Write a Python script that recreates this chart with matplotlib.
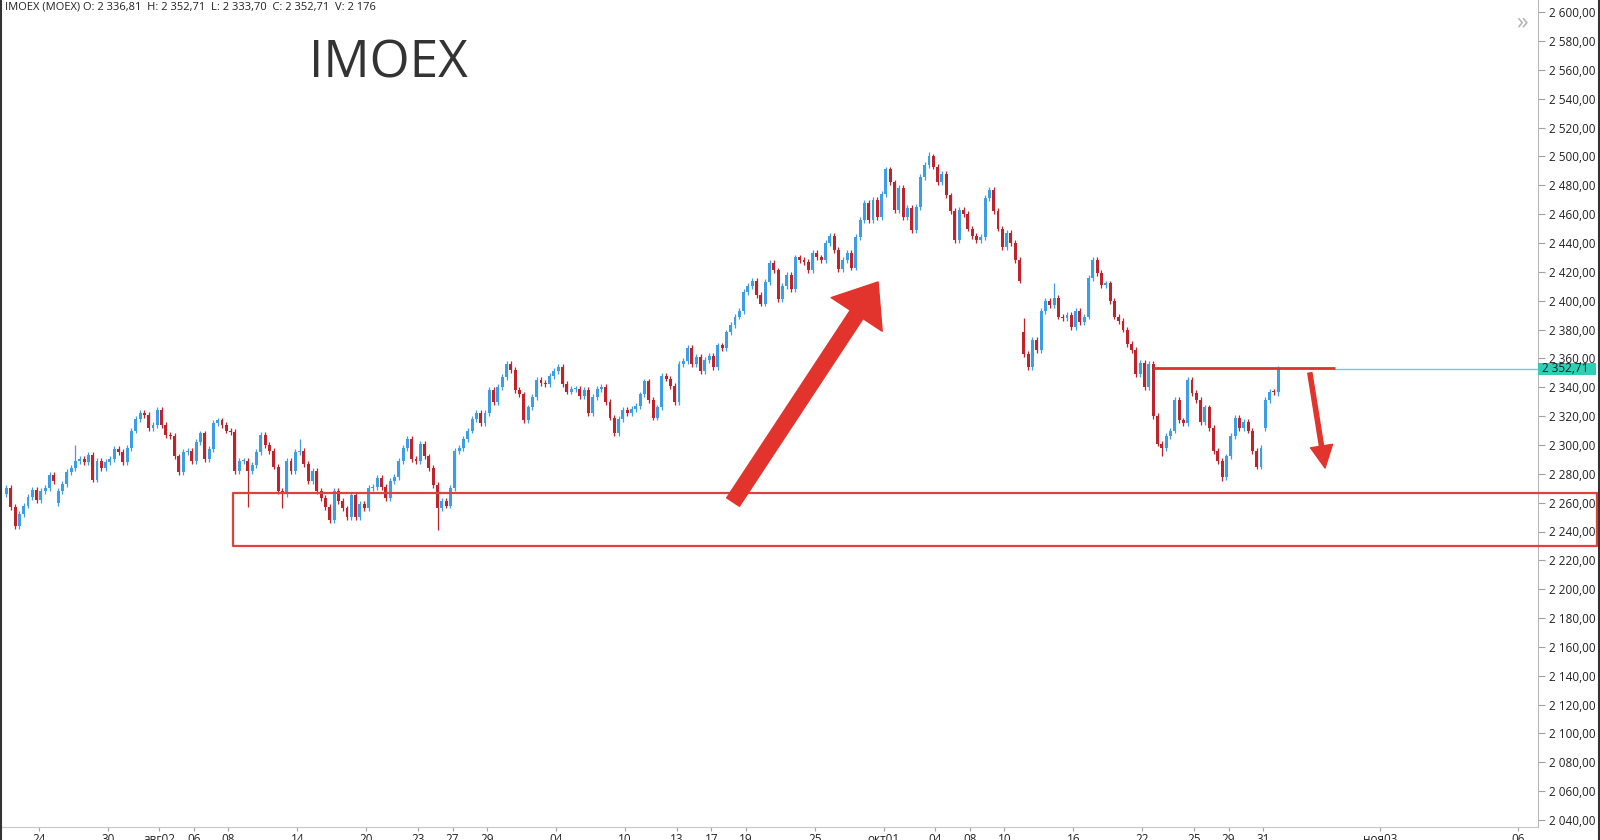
import matplotlib
matplotlib.use("Agg")
import matplotlib.pyplot as plt
from matplotlib.patches import Rectangle, FancyArrowPatch
from matplotlib.lines import Line2D
from matplotlib.transforms import blended_transform_factory

plt.rcParams['font.family'] = ['Open Sans', 'DejaVu Sans']

# ---------------- data ----------------
# trading-day index 0 = 24 Jul; each inner list = intraday closes of that day
first_day = -2
start_open = 2266
day_closes = [
    [2270, 2257, 2244, 2252],   # -2
    [2258, 2264, 2269, 2262],   # -1
    [2268, 2270, 2279, 2275],   # 0  (24 Jul)
    [2268, 2273, 2281, 2284],   # 1
    [2289, 2290, 2288, 2293],   # 2
    [2276, 2289, 2284, 2288],   # 3
    [2290, 2297, 2295, 2288],   # 4  (30 Jul)
    [2298, 2310, 2318, 2322],   # 5
    [2321, 2312, 2314, 2324],   # 6
    [2314, 2307, 2306, 2292],   # 7  (02 Aug)
    [2281, 2295, 2296, 2289],   # 8
    [2302, 2308, 2290, 2297],   # 9
    [2315, 2317, 2314, 2310],   # 10
    [2309, 2282, 2289, 2289],   # 11
    [2282, 2286, 2295, 2307],   # 12
    [2300, 2296, 2285, 2268],   # 13
    [2266, 2289, 2282, 2295],   # 14
    [2296, 2287, 2275, 2282],   # 15
    [2268, 2263, 2257, 2248],   # 16
    [2268, 2261, 2256, 2250],   # 17
    [2265, 2250, 2259, 2256],   # 18
    [2270, 2271, 2277, 2271],   # 19
    [2263, 2275, 2278, 2289],   # 20
    [2298, 2304, 2290, 2289],   # 21
    [2301, 2292, 2284, 2272],   # 22
    [2256, 2261, 2258, 2270],   # 23
    [2296, 2298, 2304, 2310],   # 24
    [2318, 2322, 2315, 2322],   # 25
    [2338, 2330, 2340, 2347],   # 26
    [2356, 2352, 2338, 2335],   # 27
    [2317, 2326, 2333, 2345],   # 28
    [2343, 2342, 2348, 2351],   # 29
    [2354, 2342, 2337, 2339],   # 30
    [2339, 2334, 2338, 2322],   # 31
    [2333, 2339, 2340, 2330],   # 32
    [2319, 2308, 2318, 2324],   # 33
    [2322, 2325, 2327, 2335],   # 34
    [2344, 2331, 2319, 2326],   # 35
    [2348, 2346, 2341, 2330],   # 36
    [2356, 2358, 2367, 2356],   # 37
    [2361, 2351, 2359, 2362],   # 38
    [2354, 2369, 2367, 2378],   # 39
    [2383, 2389, 2393, 2406],   # 40
    [2410, 2414, 2404, 2398],   # 41
    [2413, 2426, 2421, 2401],   # 42
    [2410, 2418, 2408, 2430],   # 43
    [2428, 2427, 2421, 2433],   # 44
    [2430, 2428, 2440, 2445],   # 45
    [2435, 2422, 2428, 2433],   # 46
    [2423, 2444, 2456, 2468],   # 47
    [2456, 2470, 2458, 2474],   # 48
    [2491, 2482, 2463, 2478],   # 49 (01 Oct)
    [2458, 2464, 2449, 2465],   # 50
    [2486, 2494, 2500, 2493],   # 51
    [2482, 2488, 2473, 2462],   # 52
    [2442, 2463, 2460, 2450],   # 53
    [2445, 2442, 2444, 2471],   # 54
    [2477, 2462, 2450, 2437],   # 55
    [2447, 2440, 2428, 2414],   # 56
    [2363, 2354, 2373, 2366],   # 57
    [2393, 2400, 2397, 2402],   # 58
    [2389, 2388, 2390, 2382],   # 59
    [2393, 2385, 2389, 2416],   # 60
    [2428, 2419, 2411, 2412],   # 61
    [2400, 2389, 2386, 2380],   # 62
    [2370, 2366, 2349, 2357],   # 63
    [2340, 2356, 2320, 2301],   # 64
    [2298, 2306, 2310, 2331],   # 65
    [2317, 2315, 2345, 2336],   # 66
    [2331, 2316, 2326, 2312],   # 67
    [2296, 2289, 2278, 2292],   # 68
    [2306, 2319, 2312, 2316],   # 69
    [2310, 2296, 2285, 2298],   # 70
    [2331, 2337, 2336.81, 2352.71],  # 71 (31 Oct)
]
gap_opens = {1: 2260, 57: 2378, 71: 2312}
spike_highs = {(2, 0): 2300, (15, 0): 2304, (57, 0): 2388, (58, 3): 2412, (51, 2): 2503}
spike_lows = {(12, 0): 2257, (14, 0): 2256, (23, 0): 2241, (71, 3): 2333.70,
              (65, 0): 2292, (68, 2): 2275}

xtick_pos = [0, 4, 7, 9, 11, 15, 19, 22, 24, 26, 30, 34, 37, 39, 41, 45,
             49, 52, 54, 56, 60, 64, 67, 69, 71, 77.8, 85.8]
xtick_labels = ["24", "30", "авг02", "06", "08", "14", "20", "23", "27", "29",
                "04", "10", "13", "17", "19", "25", "окт01", "04", "08", "10",
                "16", "22", "25", "29", "31", "ноя03", "06"]
yticks = list(range(2040, 2601, 20))

last_price = 2352.71
resistance = 2353.5
zone_low, zone_high = 2229.7, 2266.4
header = "IMOEX (MOEX) O: 2 336,81  H: 2 352,71  L: 2 333,70  C: 2 352,71  V: 2 176"

# ---------------- build candles ----------------
WICK = 2.0
cx, co, ch, cl_, cc = [], [], [], [], []
prev = start_open
for k, closes in enumerate(day_closes):
    day = first_day + k
    n = len(closes)
    for j, close in enumerate(closes):
        op = gap_opens.get(day, prev) if j == 0 else prev
        hi = spike_highs.get((day, j), max(op, close) + WICK)
        lo = spike_lows.get((day, j), min(op, close) - WICK)
        cx.append(day + (j + 0.5) / n)
        co.append(op); cc.append(close); ch.append(hi); cl_.append(lo)
        prev = close

UP = '#3d9ee8'
DOWN = '#c0232c'

# layout: plot area spans pixels x 0..1538, y 0..827 of the 1600x840 picture
AX_BOTTOM_PX = 827.0
PX_PER_UNIT = 1.4425
Y_TOP = 2600 + 12.2 / PX_PER_UNIT
Y_BOTTOM = 2600 - (AX_BOTTOM_PX - 12.2) / PX_PER_UNIT

fig = plt.figure(figsize=(16, 8.4), dpi=100)
ax = fig.add_axes([0, (840 - AX_BOTTOM_PX) / 840, 1538 / 1600, AX_BOTTOM_PX / 840])
ax.set_xlim(-2.249, 86.94)
ax.set_ylim(Y_BOTTOM, Y_TOP)

cols = [UP if c >= o else DOWN for o, c in zip(co, cc)]
ax.vlines(cx, cl_, ch, colors=cols, linewidth=0.9, zorder=2)
bottoms = [min(o, c) for o, c in zip(co, cc)]
heights = [max(abs(c - o), 0.8) for o, c in zip(co, cc)]
ax.bar(cx, heights, bottom=bottoms, width=0.17, color=cols, linewidth=0, zorder=3)

# axes styling
for s in ['top', 'left']:
    ax.spines[s].set_visible(False)
ax.spines['right'].set_color('#b8b8b8')
ax.spines['bottom'].set_color('#c8c8c8')
ax.yaxis.tick_right()
ax.set_yticks(yticks)
ax.set_yticklabels([f"{v:,.2f}".replace(",", " ").replace(".", ",") for v in yticks])
ax.tick_params(axis='y', direction='out', length=5, color='#a0a0a0', labelsize=8.5,
               labelcolor='#222222', pad=3)
ax.set_xticks(xtick_pos)
ax.set_xticklabels(xtick_labels)
ax.tick_params(axis='x', direction='out', length=3, color='#a0a0a0', labelsize=8.5,
               labelcolor='#222222', pad=1.5)

# current price line and label
ax.plot([75.17, 86.94], [last_price, last_price], color='#5fd3c7', lw=1, zorder=4)
tr = blended_transform_factory(fig.transFigure, ax.transData)
box_half = 6.3 / PX_PER_UNIT
ax.add_patch(Rectangle((1538 / 1600, last_price - box_half), 58 / 1600, 2 * box_half,
                       transform=tr, facecolor='#2fcfb6', edgecolor='none',
                       clip_on=False, zorder=6))
ax.text(1542 / 1600, last_price, "2 352,71", transform=tr, ha='left', va='center',
        fontsize=8.5, color='#1c1c1c', zorder=7, clip_on=False)

# resistance line
ax.plot([64.6, 75.17], [resistance, resistance], color='#d8352c', lw=2, zorder=5,
        solid_capstyle='butt')

# support zone
ax.add_patch(Rectangle((11.24, zone_low), 90.36 - 11.24, zone_high - zone_low,
                       fill=False, ec='#e0413b', lw=1.6, clip_on=False,
                       joinstyle='round', zorder=5))

# arrows
ax.add_patch(FancyArrowPatch(posA=(40.26, 2260.4), posB=(48.67, 2413.0),
                             arrowstyle='simple,head_length=28,head_width=44,tail_width=11',
                             mutation_scale=1, color='#e2342d', shrinkA=0, shrinkB=0,
                             zorder=6))
ax.add_patch(FancyArrowPatch(posA=(73.71, 2349.9), posB=(74.59, 2284.0),
                             arrowstyle='simple,head_length=16,head_width=16,tail_width=3',
                             mutation_scale=1, color='#e2342d', shrinkA=0, shrinkB=0,
                             zorder=6))

# texts
fig.text(5 / 1600, 1 - 7 / 840, header, fontsize=8, ha='left', va='center', color='#222222')
fig.text(388 / 1600, 1 - 64 / 840, "IMOEX", fontsize=37, ha='center', va='center',
         color='#333333')
fig.text(1522 / 1600, 1 - 22 / 840, "»", fontsize=17, ha='center', va='center',
         color='#b5b5b5')

# screenshot border lines
fig.add_artist(Line2D([0.0009, 0.0009], [0, 1], transform=fig.transFigure,
                      color='#333333', lw=1.5))
fig.add_artist(Line2D([0.9991, 0.9991], [0, 1], transform=fig.transFigure,
                      color='#333333', lw=1.5))

fig.savefig('out.png', dpi=100)
